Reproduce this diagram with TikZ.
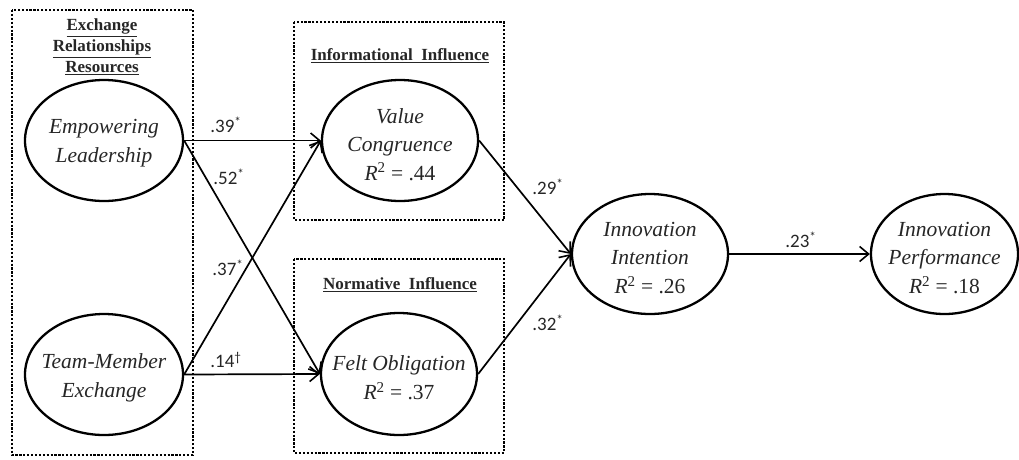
\documentclass[tikz,border=0pt]{standalone}
\usepackage{fontspec}
\setmainfont{Liberation Serif}
\newfontfamily\labfont{Carlito}
\usetikzlibrary{shapes.geometric,arrows.meta}
\begin{document}
\begin{tikzpicture}[x=1pt,y=-1pt,
  latent/.style={ellipse,draw,line width=2.3pt,inner sep=0pt},
  ltext/.style={align=center,inner sep=0pt,text=black!85,
    font=\fontsize{21.5}{28.7}\selectfont\itshape},
  grp/.style={line width=2.2pt,dash pattern=on 2.2pt off 1.7pt},
  ttl/.style={font=\fontsize{17}{21}\selectfont\bfseries,align=center,inner sep=0pt,text=black!85},
  path/.style={line width=1.7pt,-{Straight Barb[length=9pt,width=15pt,line width=1.6pt]}},
  coef/.style={font=\fontsize{19}{21}\selectfont\labfont,inner sep=0pt,text=black!85}]
\useasboundingbox (0,0) rectangle (1019,459);
% group boxes
\draw[grp] (12,10) rectangle (193,455);
\draw[grp] (294,22) rectangle (504,220);
\draw[grp] (294,259) rectangle (504,453);
% titles
\node[ttl] (t1) at (102,47) {\underline{Exchange}\\[0pt]\underline{Relationships}\\[0pt]\underline{Resources}};
\node[ttl] (t2) at (400,56) {\underline{Informational\ \ Influence}};
\node[ttl] (t3) at (400,285) {\underline{Normative\ \ Influence}};
% latent variables
\node[latent,minimum width=158pt,minimum height=121pt] (el) at (104,140.5) {};
\node[latent,minimum width=158pt,minimum height=121pt] (tme) at (104,374.5) {};
\node[latent,minimum width=156pt,minimum height=121pt] (vc) at (400,140.5) {};
\node[latent,minimum width=156pt,minimum height=122pt] (fo) at (399,374) {};
\node[latent,minimum width=156pt,minimum height=120pt] (ii) at (650,254) {};
\node[latent,minimum width=147pt,minimum height=120pt] (ip) at (944.5,254) {};
\node[ltext] (elt) at ([yshift=-3pt]el.center) {Empowering\\Leadership};
\node[ltext] (tmet) at ([yshift=-3pt]tme.center) {Team-Member\\Exchange};
\node[ltext] (vct) at ([yshift=-4pt]vc.center) {Value\\Congruence\\R\textsuperscript{\upshape 2}{\upshape\ = .44}};
\node[ltext] (fot) at ([yshift=-4pt]fo.center) {Felt Obligation\\R\textsuperscript{\upshape 2}{\upshape\ = .37}};
\node[ltext] (iit) at ([yshift=-4pt]ii.center) {Innovation\\Intention\\R\textsuperscript{\upshape 2}{\upshape\ = .26}};
\node[ltext] (ipt) at ([yshift=-4pt]ip.center) {Innovation\\Performance\\R\textsuperscript{\upshape 2}{\upshape\ = .18}};
% paths
\draw[path] (el.east) -- (vc.west);
\draw[path] (el.east) -- (fo.west);
\draw[path] (tme.east) -- (vc.west);
\draw[path] (tme.east) -- (fo.west);
\draw[path] (vc.east) -- (ii.west);
\draw[path] (fo.east) -- (ii.west);
\draw[path] (ii.east) -- (ip.west);
% coefficients
\node[coef] (c1) at (226,125) {.39\textsuperscript{*}};
\node[coef] (c2) at (229,177) {.52\textsuperscript{*}};
\node[coef] (c3) at (228,268) {.37\textsuperscript{*}};
\node[coef] (c4) at (226,360) {.14\textsuperscript{†}};
\node[coef] (c5) at (548,187) {.29\textsuperscript{*}};
\node[coef] (c6) at (548,323) {.32\textsuperscript{*}};
\node[coef] (c7) at (801,240) {.23\textsuperscript{*}};
\end{tikzpicture}
\end{document}
